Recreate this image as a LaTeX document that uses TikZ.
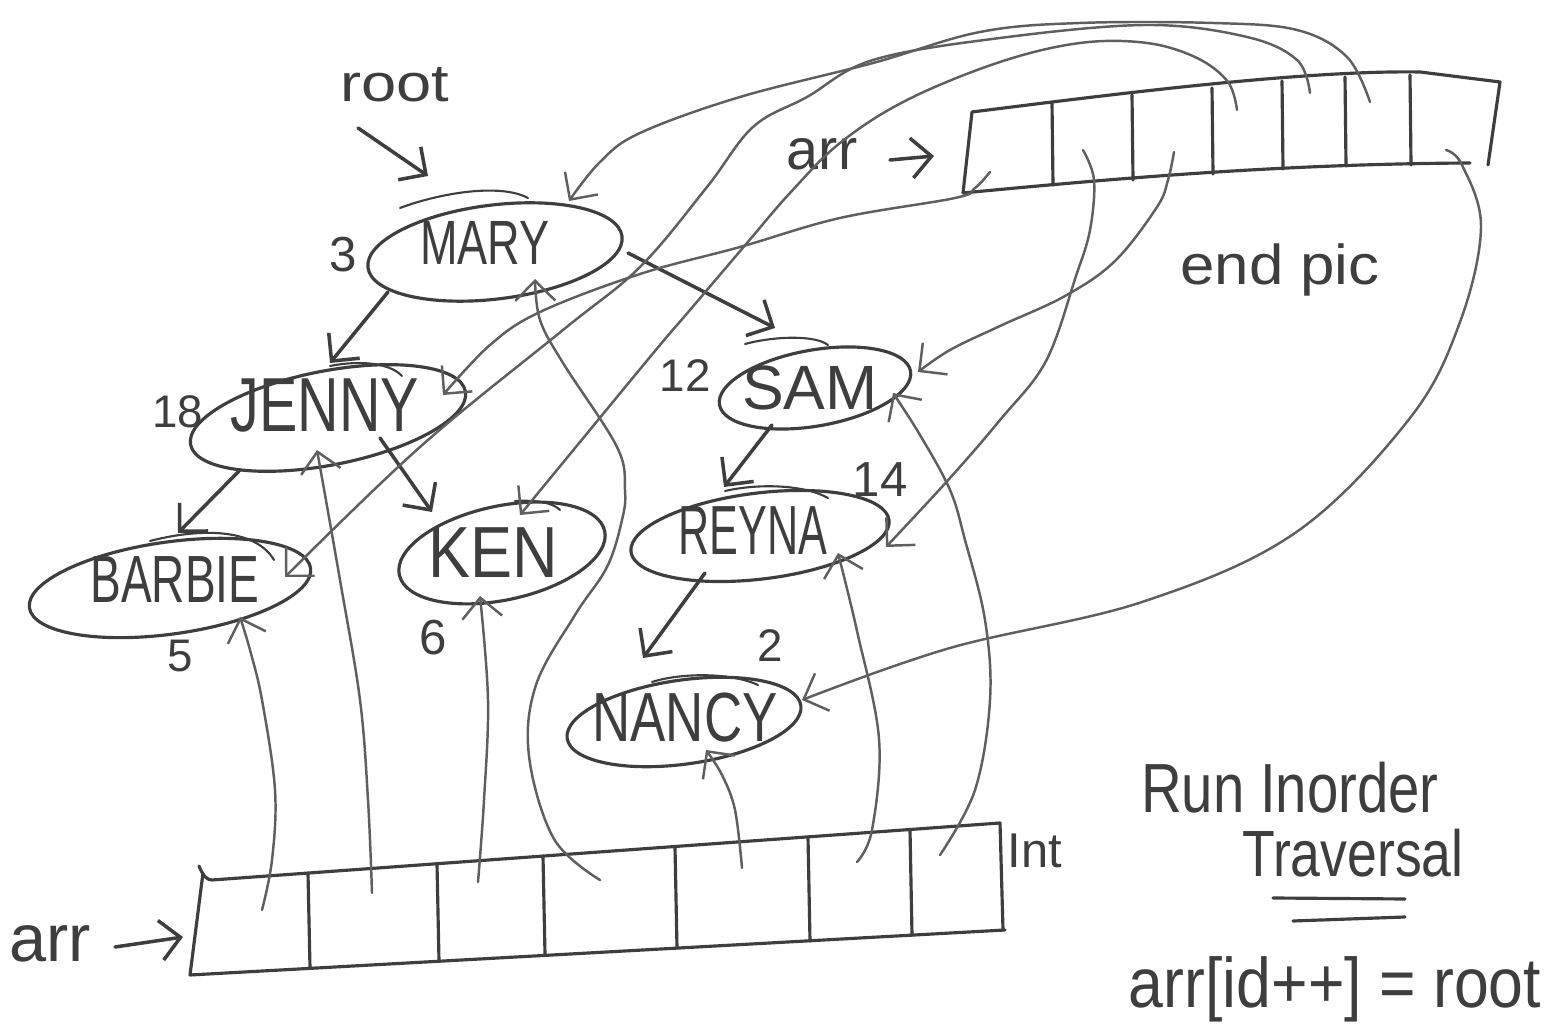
\documentclass[tikz,border=0pt]{standalone}
\usepackage{fontspec}
\usepackage{graphicx}
\setmainfont{Liberation Sans}
\usetikzlibrary{arrows.meta,shapes.geometric,calc}
\definecolor{pen}{RGB}{62,62,62}
\definecolor{pencil}{RGB}{95,95,95}
\tikzset{
  ink/.style={draw=pen, line width=0.9pt, line cap=round, line join=round},
  thinink/.style={draw=pen, line width=0.6pt, line cap=round},
  tree/.style={ink, line width=1pt, -{Straight Barb[length=2mm,width=4mm]}},
  link/.style={draw=pencil, line width=0.7pt, line cap=round, -{Straight Barb[length=2mm,width=4mm]}},
  oval/.style={ellipse, draw=pen, line width=0.9pt, inner sep=0pt},
  lbl/.style={text=pen, inner sep=0pt, anchor=base},
}
\newcommand{\fs}[1]{\fontsize{#1}{#1}\selectfont}
\begin{document}
\begin{tikzpicture}[x=0.1mm,y=-0.1mm]
\fill[white] (0,0) rectangle (1552,1028);
\useasboundingbox (0,0) rectangle (1552,1028);

% ---------- tree nodes ----------
\node[oval, minimum width=25.6mm, minimum height=9.4mm, rotate=7]  (mary)   at (495,252) {};
\node[oval, minimum width=28mm,   minimum height=9.4mm, rotate=11] (jenny)  at (328,418) {};
\node[oval, minimum width=28.4mm, minimum height=9.2mm, rotate=8]  (barbie) at (170,588) {};
\node[oval, minimum width=21mm,   minimum height=9.4mm, rotate=12] (ken)    at (502,553) {};
\node[oval, minimum width=19.4mm, minimum height=7.6mm, rotate=10] (sam)    at (815,388) {};
\node[oval, minimum width=26mm,   minimum height=8.6mm, rotate=7]  (reyna)  at (760,536) {};
\node[oval, minimum width=23.6mm, minimum height=8.4mm, rotate=8]  (nancy)  at (684,722) {};

% pen overshoots on the ovals
\draw[thinink] (400,208) .. controls (440,193) and (500,183) .. (528,198);
\draw[thinink] (330,366) .. controls (360,360) and (390,363) .. (402,376);
\draw[thinink] (150,541) .. controls (200,528) and (255,528) .. (274,560);
\draw[thinink] (515,501) .. controls (535,500) and (552,502) .. (560,510);
\draw[thinink] (745,344) .. controls (775,336) and (815,335) .. (828,345);
\draw[thinink] (725,491) .. controls (760,483) and (805,485) .. (828,498);
\draw[thinink] (652,682) .. controls (680,673) and (730,672) .. (758,685);

% names
\node[lbl, font=\fs{17.8}] (maryname)   at (485,265) {\scalebox{0.72}[1]{MARY}};
\node[lbl, font=\fs{21.8}] (jennyname)  at (325,432) {\scalebox{0.75}[1]{JENNY}};
\node[lbl, font=\fs{19}]   (barbiename) at (175,603) {\scalebox{0.69}[1]{BARBIE}};
\node[lbl, font=\fs{20.6}] (kenname)    at (493,578) {\scalebox{0.87}[1]{KEN}};
\node[lbl, font=\fs{17.8}] (samname)    at (810,410) {SAM};
\node[lbl, font=\fs{19.8}] (reynaname)  at (753,555) {\scalebox{0.62}[1]{REYNA}};
\node[lbl, font=\fs{19.8}] (nancyname)  at (685,742) {\scalebox{0.76}[1]{NANCY}};

% numbers
\node[lbl, font=\fs{14}] (n3)  at (343,272) {3};
\node[lbl, font=\fs{13}] (n18) at (178,428) {18};
\node[lbl, font=\fs{13}] (n5)  at (180,672) {5};
\node[lbl, font=\fs{14}] (n6)  at (433,655) {6};
\node[lbl, font=\fs{13}] (n12) at (685,392) {12};
\node[lbl, font=\fs{14}] (n14) at (880,497) {14};
\node[lbl, font=\fs{13}] (n2)  at (770,662) {2};

% other texts
\node[lbl, font=\fs{15}]   (rootlbl) at (395,102) {\scalebox{1.2}[1]{root}};
\node[lbl, font=\fs{16.4}] (arrtop)  at (822,170) {arr};
\node[lbl, font=\fs{19}]   (arrbot)  at (50,962) {arr};
\node[lbl, font=\fs{16}]   (endpic)  at (1280,285) {\scalebox{1.1}[1]{end pic}};
\node[lbl, font=\fs{13.9}] (intlbl)  at (1035,868) {Int};
\node[lbl, font=\fs{19.8}] (run)     at (1290,813) {\scalebox{0.81}[1]{Run Inorder}};
\node[lbl, font=\fs{18.6}] (trav)    at (1353,877) {\scalebox{0.82}[1]{Traversal}};
\node[lbl, font=\fs{20}]   (assign)  at (1335,1008) {\scalebox{0.89}[1]{arr[id++] = root}};
\draw[ink] (1273,898) -- (1405,899);
\draw[ink] (1293,921) -- (1405,917);

% ---------- ports ----------
\coordinate (maryT) at (569,201);  \coordinate (maryB) at (535,279);
\coordinate (maryL) at (388,292);  \coordinate (maryR) at (628,253);
\coordinate (jennyT) at (330,363); \coordinate (jennyR) at (443,395);
\coordinate (jennyB) at (317,450); \coordinate (jennyBL) at (240,470);
\coordinate (jennyBR) at (380,438);
\coordinate (barbieT) at (178,533); \coordinate (barbieR) at (285,577);
\coordinate (barbieB) at (240,617);
\coordinate (kenTL) at (432,512); \coordinate (kenT) at (520,515);
\coordinate (kenB) at (480,596);
\coordinate (samL) at (775,328); \coordinate (samR) at (918,372);
\coordinate (samB) at (893,393); \coordinate (samBL) at (772,425);
\coordinate (reynaT) at (724,487); \coordinate (reynaR) at (886,547);
\coordinate (reynaB) at (838,553); \coordinate (reynaBL) at (705,573);
\coordinate (nancyT) at (643,658); \coordinate (nancyR) at (802,700);
\coordinate (nancyB) at (706,750);

% ---------- tree edges ----------
\coordinate (rootS) at (358,128); \coordinate (rootTip) at (428,176);
\draw[tree] (rootS) -- (rootTip);
\draw[tree] (maryL) -- (jennyT);
\draw[tree] (maryR) -- (samL);
\draw[tree] (jennyBL) -- (barbieT);
\draw[tree] (jennyBR) -- (kenTL);
\draw[tree] (samBL) -- (reynaT);
\draw[tree] (reynaBL) -- (nancyT);

% ---------- top array ----------
\coordinate (TTL) at (972,112); \coordinate (TTR) at (1500,82);
\coordinate (TBL) at (963,193); \coordinate (TBR) at (1488,165);
\draw[ink] (TTL) .. controls (1100,96) and (1300,70) .. (1420,72) -- (TTR) -- (TBR);
\draw[ink] (TTL) -- (TBL) .. controls (1150,175) and (1300,164) .. (1470,163);
\foreach \x/\yt/\yb in {1052/103/185, 1132/95/180, 1212/88/174, 1282/81/169, 1345/77/166, 1410/75/165}
  \draw[ink] (\x,\yt) -- (\x+1,\yb);
\coordinate (arrTa) at (890,160); \coordinate (arrTb) at (934,156);
\draw[tree] (arrTa) -- (arrTb);

\coordinate (t0) at (990,172); \coordinate (t1) at (1083,150);
\coordinate (t2) at (1174,152); \coordinate (t3) at (1237,110);
\coordinate (t4) at (1310,93);  \coordinate (t5) at (1370,102);
\coordinate (t6) at (1446,150);

% ---------- bottom array ----------
\coordinate (BTL) at (212,880); \coordinate (BTR) at (1000,823);
\coordinate (BBL) at (190,975); \coordinate (BBR) at (1005,930);
\draw[ink] (199,866) .. controls (203,876) and (207,880) .. (BTL) -- (BTR) -- (1003,930);
\draw[ink] (203,873) -- (BBL) -- (BBR);
\foreach \x/\yt/\yb in {308/873/968, 437/864/961, 543/856/955, 675/847/948, 808/837/941, 910/830/935}
  \draw[ink] (\x,\yt) -- (\x+2,\yb);
\coordinate (arrBa) at (115,947); \coordinate (arrBb) at (183,937);
\draw[tree] (arrBa) -- (arrBb);

\coordinate (b0) at (262,910); \coordinate (b1) at (372,893);
\coordinate (b2) at (478,882); \coordinate (b3) at (600,880);
\coordinate (b4) at (742,868); \coordinate (b5) at (857,862);
\coordinate (b6) at (940,855);

% ---------- links from top array ----------
\draw[link] plot[smooth, tension=0.6] coordinates {(t0) (975,188) (955,198) (840,218) (740,247) (640,274) (540,312) (490,345) (jennyR)};
\draw[link] plot[smooth, tension=0.6] coordinates {(t1) (1094,180) (1090,230) (1076,276) (1046,361) (1000,420) (950,478) (reynaR)};
\draw[link] plot[smooth, tension=0.6] coordinates {(t2) (1168,180) (1157,207) (1115,261) (1065,296) (1000,326) (950,350) (samR)};
\draw[link] plot[smooth, tension=0.6] coordinates {(t3) (1228,82) (1197,58) (1147,43) (1080,43) (1000,62) (907,100) (840,143) (790,193) (747,243) (690,310) (650,357) (kenT)};
\draw[link] plot[smooth, tension=0.6] coordinates {(t4) (1297,60) (1247,37) (1147,25) (1000,38) (873,60) (807,97) (753,127) (707,187) (640,267) (563,330) (420,447) (barbieR)};
\draw[link] plot[smooth, tension=0.6] coordinates {(t5) (1347,57) (1297,30) (1213,23) (1080,23) (980,32) (873,63) (740,97) (640,133) (600,162) (maryT)};
\draw[link] plot[smooth, tension=0.6] coordinates {(t6) (1462,165) (1481,227) (1460,322) (1410,418) (1295,533) (1142,602) (950,648) (nancyR)};

% ---------- links from bottom array ----------
\draw[link] plot[smooth, tension=0.6] coordinates {(b0) (272,860) (275,790) (262,700) (250,650) (barbieB)};
\draw[link] plot[smooth, tension=0.6] coordinates {(b1) (368,800) (360,700) (340,580) (jennyB)};
\draw[link] plot[smooth, tension=0.6] coordinates {(b2) (484,800) (488,700) (kenB)};
\draw[link] plot[smooth, tension=0.6] coordinates {(b3) (554,839) (529,756) (536,685) (575,615) (607,567) (622,520) (625,490) (617,447) (563,363) (540,320) (maryB)};
\draw[link] plot[smooth, tension=0.6] coordinates {(b4) (735,810) (722,775) (nancyB)};
\draw[link] plot[smooth, tension=0.6] coordinates {(b5) (872,830) (879,739) (857,631) (reynaB)};
\draw[link] plot[smooth, tension=0.6] coordinates {(b6) (975,790) (990,700) (985,620) (965,540) (950,490) (920,435) (samB)};
\end{tikzpicture}
\end{document}
